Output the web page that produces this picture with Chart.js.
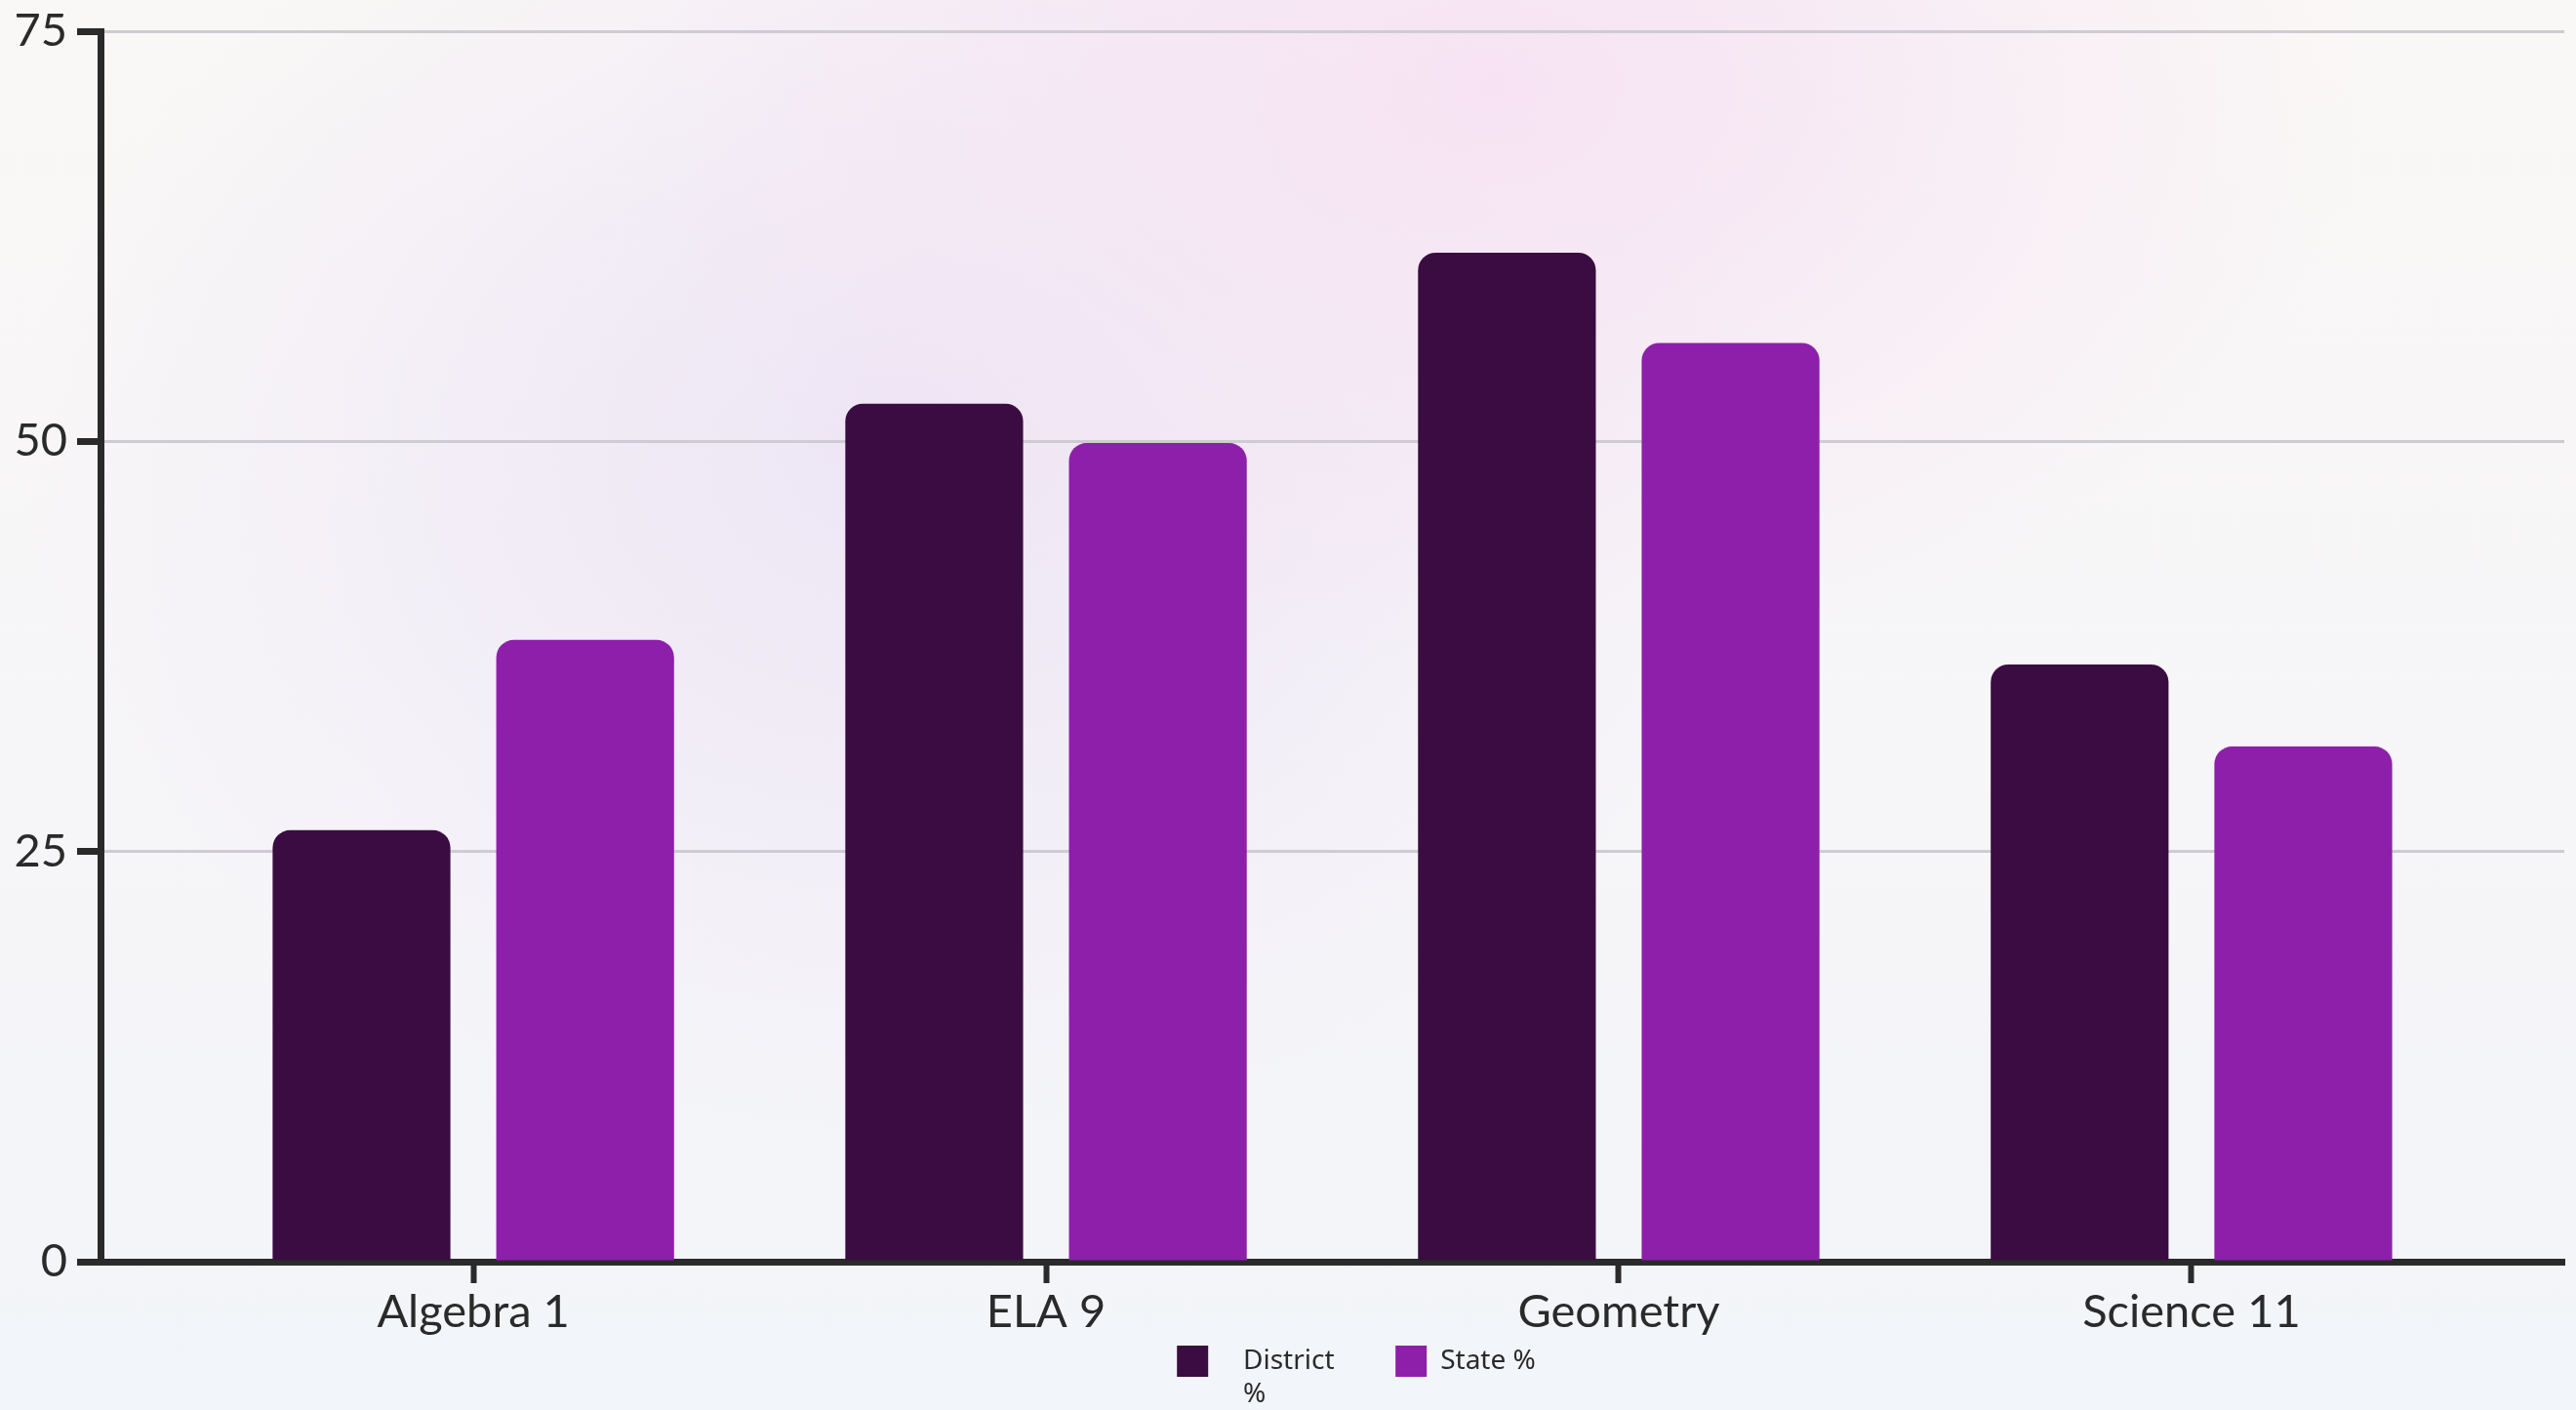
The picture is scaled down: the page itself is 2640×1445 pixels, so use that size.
<!DOCTYPE html>
<html>
<head>
<meta charset="utf-8">
<script src="https://cdn.jsdelivr.net/npm/chart.js@4"></script>
<style>
  html, body { margin: 0; padding: 0; }
  body {
    width: 2640px; height: 1445px; overflow: hidden;
    background:
      radial-gradient(ellipse 900px 600px at 58% 6%, rgba(246,226,243,1) 0%, rgba(246,226,243,0) 100%),
      radial-gradient(ellipse 900px 700px at 35% 32%, rgba(236,228,245,0.95) 0%, rgba(236,228,245,0) 100%),
      linear-gradient(180deg, #faf8f6 0%, #f6f5f8 60%, #f2f5f9 100%);
  }
  #wrap { position: relative; width: 2640px; height: 1445px; }
</style>
</head>
<body>
<div id="wrap"><canvas id="chart"></canvas></div>
<script>
const subjects = ['Algebra 1', 'ELA 9', 'Geometry', 'Science 11'];
const districtPct = [26.3, 52.3, 61.5, 36.4];
const statePct = [37.9, 49.9, 56.0, 31.4];
const yTicks = [0, 25, 50, 75];

const tickFont = { family: "Lato, 'Noto Sans', sans-serif", size: 47 };
const ink = '#2a2a2a';

// nudge the legend to where the original sits (right of centre, a bit higher)
const legendShift = {
  id: 'legendShift',
  afterLayout(chart) {
    const lg = chart.legend;
    if (!lg) return;
    lg.left += 76;
    lg.right += 76;
    lg.top -= 24;
  }
};

new Chart(document.getElementById('chart'), {
  type: 'bar',
  data: {
    labels: subjects,
    datasets: [
      { label: 'District %', data: districtPct, backgroundColor: '#3a0c41', borderRadius: 18, borderSkipped: 'start' },
      { label: 'State %', data: statePct, backgroundColor: '#8d1fab', borderRadius: 18, borderSkipped: 'start' }
    ]
  },
  options: {
    responsive: true,
    maintainAspectRatio: false,
    animation: false,
    categoryPercentage: 0.781,
    barPercentage: 0.795,
    layout: { padding: { top: 32, right: 12, left: 0, bottom: 0 } },
    plugins: {
      tooltip: { enabled: false },
      legend: {
        position: 'bottom',
        labels: {
          color: ink,
          font: { family: "'Noto Sans', sans-serif", size: 28 },
          boxWidth: 32,
          boxHeight: 32,
          padding: 10,
          generateLabels(chart) {
            const items = Chart.defaults.plugins.legend.labels.generateLabels(chart);
            // the first label wraps onto two lines in the original
            items[0].text = ['   District', '   %'];
            return items;
          }
        }
      }
    },
    scales: {
      x: {
        offset: true,
        border: { display: true, color: ink, width: 7 },
        grid: { offset: false, drawOnChartArea: false, drawTicks: true, tickLength: 22, tickWidth: 6, tickColor: ink },
        ticks: { color: ink, font: tickFont, padding: 2, maxRotation: 0 },
        afterBuildTicks(scale) {
          // wider outer margins than a plain category band
          scale._startValue = -0.651;
          scale._valueRange = 4.302;
        },
        afterFit(scale) { scale.height = 100; }
      },
      y: {
        min: 0,
        max: 75,
        afterBuildTicks(scale) { scale.ticks = yTicks.map(v => ({ value: v })); },
        border: { display: true, color: ink, width: 7 },
        grid: { color: '#cfcbd3', lineWidth: 3, tickLength: 24, tickWidth: 7, tickColor: ink },
        ticks: { color: ink, font: tickFont, padding: 10 },
        afterFit(scale) {
          scale.width = 103;
          scale.paddingTop = 0;
          scale.paddingBottom = 0;
        }
      }
    }
  },
  plugins: [legendShift]
});
</script>
</body>
</html>
